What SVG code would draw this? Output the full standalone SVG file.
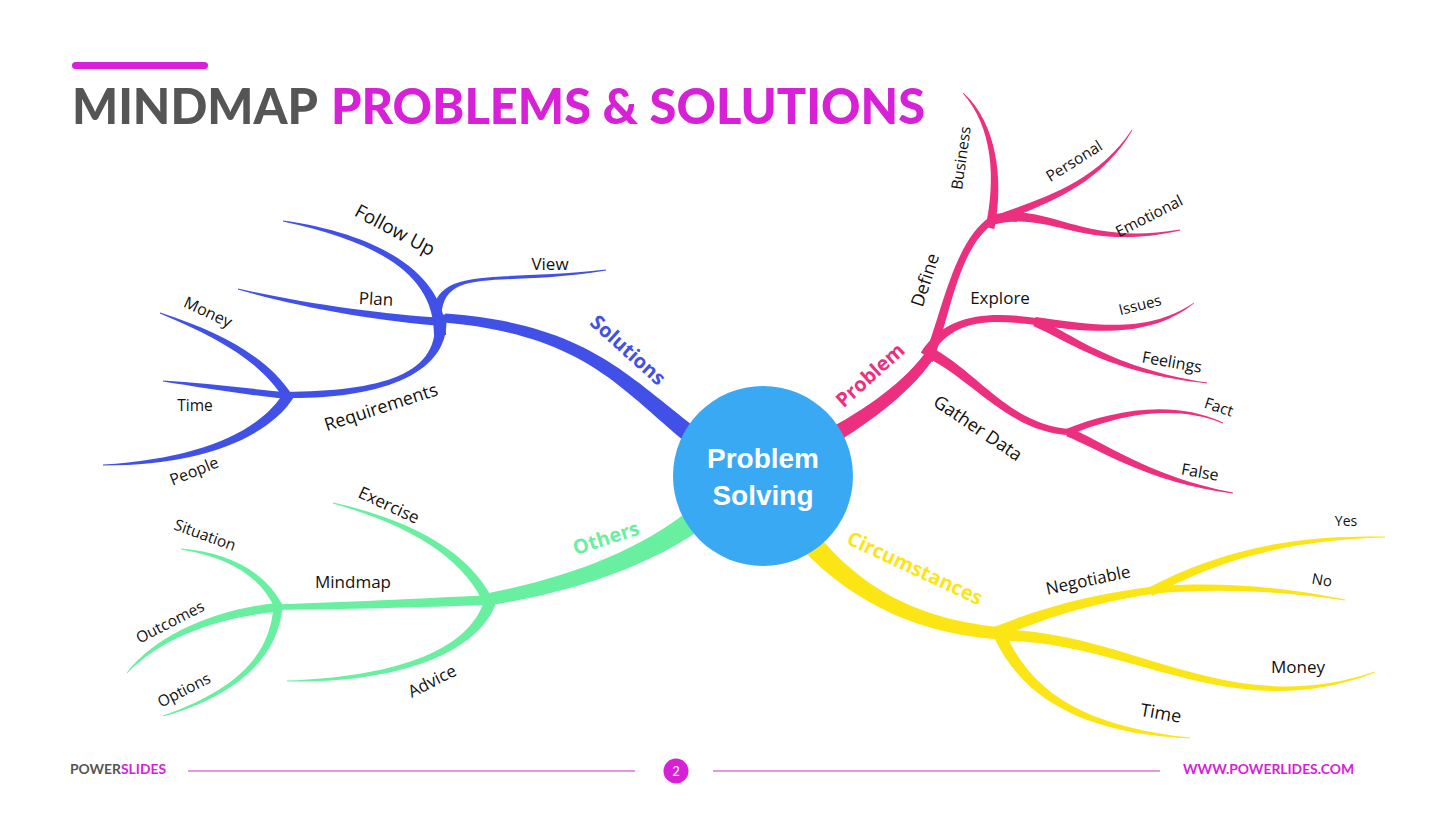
<svg xmlns="http://www.w3.org/2000/svg" width="1452" height="815" viewBox="0 0 1452 815">
<style>
.lbl{font-family:"Open Sans","Liberation Sans",sans-serif;fill:#111;text-anchor:middle}
.hd{font-family:"Open Sans","Liberation Sans",sans-serif;font-weight:700;text-anchor:middle}
.blue{fill:#4150E6}.pink{fill:#EC2F7E}.green{fill:#68F0A0}.yellow{fill:#FCE514}
</style>
<rect width="1452" height="815" fill="#ffffff"/>
<g id="title">
<rect x="72" y="62" width="136" height="7" rx="3.5" fill="#D820D8"/>
<text x="72" y="124" font-family="Lato,'Liberation Sans',sans-serif" font-weight="900" font-size="50" fill="#555555" textLength="246" lengthAdjust="spacingAndGlyphs">MINDMAP</text>
<text x="331" y="124" font-family="Lato,'Liberation Sans',sans-serif" font-weight="900" font-size="50" fill="#D820D8" textLength="594" lengthAdjust="spacingAndGlyphs">PROBLEMS &amp; SOLUTIONS</text>
</g>
<g id="connectors">
<g class="blue">
<path d="M705.4,434.8 C629.5,379 590.5,324 445.4,313.5 L444.6,322.5 C589.5,336 620.5,391 694.6,449.2 Z"/>
<path d="M446,335 C445.7,280 390.7,235.9 283.1,220.6 L282.9,221.4 C389.3,244.1 434.3,280 434,335 Z"/>
<path d="M441.5,315.3 C444.3,265.3 500.4,288 606.1,270.4 L605.9,269.6 C499.6,282 435.7,264.7 432.5,314.7 Z"/>
<path d="M445.2,318 C380.2,314.4 300.6,302.7 238.1,288.6 L237.9,289.4 C299.4,307.3 379.8,321.6 444.8,326 Z"/>
<path d="M434,315.8 C443,375.7 380,391 285,392 L285,398 C380,399 453,374.3 446,314.2 Z"/>
<path d="M291.8,394.6 C268.6,357.8 221,332.2 160.1,312.6 L159.9,313.4 C219,337.8 261.4,362.2 284.2,399.4 Z"/>
<path d="M290.4,392.5 C250.3,388.8 200.2,382.8 163,380.6 L163,381.4 C199.8,387.2 249.7,395.2 289.7,399.5 Z"/>
<path d="M285.3,390.2 C260.5,432.3 199.9,458.4 103,464.6 L103,465.4 C200.1,465.6 269.5,437.7 294.7,395.8 Z"/>
</g>
<g class="pink">
<path d="M828.9,447 C873.4,421.1 915,388.3 936.2,354.8 L927.8,349.2 C905,381.7 866.6,408.9 821.1,433 Z"/>
<path d="M932.6,362 C949.1,321.8 957.2,248.3 994,222.9 L990,217.1 C952.8,241.7 940.9,318.2 923.4,358 Z"/>
<path d="M994.4,228.9 C1004.1,180.9 997.1,122.9 963.3,92.7 L962.7,93.3 C992.9,127.1 995.9,179.1 985.6,227.1 Z"/>
<path d="M991.6,225.7 C1031.5,208.4 1097.2,191.4 1132.3,130.2 L1131.7,129.8 C1092.8,188.6 1028.6,201.6 988.4,218.3 Z"/>
<path d="M993.3,224.8 C1051.2,209.6 1080.6,253.1 1180.1,230.4 L1179.9,229.6 C1079.4,246.9 1048.8,200.5 990.8,215.2 Z"/>
<path d="M929.2,357.7 C953.8,317.4 989.4,319 1039.5,325.5 L1040.5,318.5 C990.6,311 946.2,312.6 920.8,352.4 Z"/>
<path d="M1034.5,325 C1099.5,333.7 1151.5,337.1 1194.2,303.3 L1193.8,302.7 C1148.5,332.9 1100.5,326.3 1035.6,317 Z"/>
<path d="M1033.2,326.1 C1073.3,343.8 1109.6,373 1207,383.4 L1207.1,382.6 C1110.4,367 1076.7,336.2 1036.9,317.9 Z"/>
<path d="M925.6,356.9 C973,379.2 1009.9,433.8 1071.9,435 L1072.1,429 C1010.1,426.2 977.1,370.8 930.4,347.1 Z"/>
<path d="M1069.3,435.2 C1111.2,418 1169.1,402 1222.8,423.4 L1223.2,422.6 C1170.9,398 1108.8,412 1066.7,428.8 Z"/>
<path d="M1066.3,436.2 C1098.4,448.9 1149.5,483 1232.9,493.4 L1233.1,492.6 C1150.5,477 1101.6,441.1 1069.7,427.8 Z"/>
</g>
<g class="green">
<path d="M688.5,511.1 C634.5,552.5 568.7,577.5 484,594.1 L486,605.9 C571.3,592.6 645.5,567.6 701.5,528.9 Z"/>
<path d="M494.6,603 C474.3,558.1 420.8,521.8 333.1,502.6 L332.9,503.4 C419.2,528.2 465.7,561.9 485.4,607 Z"/>
<path d="M486.1,593.7 C474.5,648.8 400,676.2 287,680.6 L287,681.4 C400,683.8 485.5,651.2 497.9,596.3 Z"/>
<path d="M489.8,595 C419.8,598.7 340,602.3 276,604.3 L276,609.7 C340,609.7 420.2,607.3 490.2,605 Z"/>
<path d="M283.7,608.4 C268.4,573.5 230.4,552.4 181.1,548.6 L180.9,549.4 C229.6,557.6 261.6,576.5 276.3,611.6 Z"/>
<path d="M281.6,602.5 C219.7,607.8 157.7,633 126.7,672.7 L127.3,673.3 C162.3,637 220.3,616.2 282.4,611.5 Z"/>
<path d="M273.5,604.8 C270.8,659.8 229.1,692.1 162.9,715.6 L163.1,716.4 C230.9,697.9 279.2,660.2 282.5,605.2 Z"/>
</g>
<g class="yellow">
<path d="M791.4,536.9 C832.7,585.8 899.4,632.7 997.5,639 L998.5,627 C900.6,617.4 847.3,574.2 808.6,523.1 Z"/>
<path d="M997.3,638.5 C1052,614.8 1100.6,601.3 1162.5,592.5 L1161.6,585.5 C1099.5,592.7 1048,605.2 992.7,627.5 Z"/>
<path d="M1152.1,596 C1212,563.7 1280,540 1385,537.4 L1385,536.6 C1280,534 1208,556.3 1147.9,588 Z"/>
<path d="M1155.3,593.5 C1220.3,587.2 1289.6,592.2 1344.9,600.4 L1345.1,599.6 C1290.4,587.8 1219.7,580.8 1154.7,586.5 Z"/>
<path d="M997,640.5 C1130,640.2 1231.2,728.4 1375.1,672.4 L1374.9,671.6 C1228.8,721.6 1130,629.8 997,629.5 Z"/>
<path d="M994.6,638.5 C1024.9,702.4 1089.7,733.8 1190,738.4 L1190,737.6 C1090.3,726.2 1035.1,697.6 1005.4,633.5 Z"/>
</g>
</g>
<g id="center">
<circle cx="763" cy="476" r="90" fill="#3AA9F4"/>
<text x="763" y="468" font-family="'Liberation Sans',Arial,sans-serif" font-weight="700" font-size="28" fill="#ffffff" text-anchor="middle">Problem</text>
<text x="763" y="505" font-family="'Liberation Sans',Arial,sans-serif" font-weight="700" font-size="28" fill="#ffffff" text-anchor="middle">Solving</text>
</g>
<g id="n-solutions"><text class="hd blue" font-size="20" dy=".35em" transform="translate(628,350) rotate(42)">Solutions</text></g>
<g id="n-followup"><text class="lbl" font-size="19" dy=".35em" transform="translate(395,230) rotate(28)">Follow Up</text></g>
<g id="n-view"><text class="lbl" font-size="17" dy=".35em" transform="translate(550,264)">View</text></g>
<g id="n-plan"><text class="lbl" font-size="17" dy=".35em" transform="translate(376,299) rotate(3)">Plan</text></g>
<g id="n-money1"><text class="lbl" font-size="16" dy=".35em" transform="translate(208,312) rotate(25)">Money</text></g>
<g id="n-time1"><text class="lbl" font-size="15.5" dy=".35em" transform="translate(195,406)">Time</text></g>
<g id="n-people"><text class="lbl" font-size="16" dy=".35em" transform="translate(194,471) rotate(-22)">People</text></g>
<g id="n-requirements"><text class="lbl" font-size="18" dy=".35em" transform="translate(381,407) rotate(-18)">Requirements</text></g>
<g id="n-problem"><text class="hd pink" font-size="20" dy=".35em" transform="translate(870,375) rotate(-42)">Problem</text></g>
<g id="n-define"><text class="lbl" font-size="18" dy=".35em" transform="translate(925,280) rotate(-72)">Define</text></g>
<g id="n-business"><text class="lbl" font-size="15.5" dy=".35em" transform="translate(961,158) rotate(-82)">Business</text></g>
<g id="n-personal"><text class="lbl" font-size="15.5" dy=".35em" transform="translate(1074,161) rotate(-32)">Personal</text></g>
<g id="n-emotional"><text class="lbl" font-size="15.5" dy=".35em" transform="translate(1149,216) rotate(-27)">Emotional</text></g>
<g id="n-explore"><text class="lbl" font-size="17" dy=".35em" transform="translate(1000,298)">Explore</text></g>
<g id="n-issues"><text class="lbl" font-size="15" dy=".35em" transform="translate(1140,305) rotate(-14)">Issues</text></g>
<g id="n-feelings"><text class="lbl" font-size="16" dy=".35em" transform="translate(1172,362) rotate(10)">Feelings</text></g>
<g id="n-fact"><text class="lbl" font-size="15.5" dy=".35em" transform="translate(1219,407) rotate(18)">Fact</text></g>
<g id="n-false"><text class="lbl" font-size="16" dy=".35em" transform="translate(1200,472) rotate(10)">False</text></g>
<g id="n-gatherdata"><text class="lbl" font-size="18" dy=".35em" transform="translate(978,428) rotate(34)">Gather Data</text></g>
<g id="n-others"><text class="hd green" font-size="20" dy=".35em" transform="translate(606,538) rotate(-18)">Others</text></g>
<g id="n-exercise"><text class="lbl" font-size="17" dy=".35em" transform="translate(389,505) rotate(25)">Exercise</text></g>
<g id="n-mindmap"><text class="lbl" font-size="17" dy=".35em" transform="translate(353,582)">Mindmap</text></g>
<g id="n-advice"><text class="lbl" font-size="17" dy=".35em" transform="translate(432,681) rotate(-27)">Advice</text></g>
<g id="n-situation"><text class="lbl" font-size="15.5" dy=".35em" transform="translate(205,535) rotate(20)">Situation</text></g>
<g id="n-outcomes"><text class="lbl" font-size="15.5" dy=".35em" transform="translate(170,622) rotate(-27)">Outcomes</text></g>
<g id="n-options"><text class="lbl" font-size="15.5" dy=".35em" transform="translate(184,690) rotate(-27)">Options</text></g>
<g id="n-circumstances"><text class="hd yellow" font-size="20" dy=".35em" transform="translate(915,568) rotate(25)">Circumstances</text></g>
<g id="n-negotiable"><text class="lbl" font-size="17" dy=".35em" transform="translate(1088,580) rotate(-12)">Negotiable</text></g>
<g id="n-yes"><text class="lbl" font-size="14" dy=".35em" transform="translate(1346,521)">Yes</text></g>
<g id="n-no"><text class="lbl" font-size="15" dy=".35em" transform="translate(1322,580) rotate(10)">No</text></g>
<g id="n-money2"><text class="lbl" font-size="17" dy=".35em" transform="translate(1298,667)">Money</text></g>
<g id="n-time2"><text class="lbl" font-size="18" dy=".35em" transform="translate(1161,713) rotate(10)">Time</text></g>
<g id="footer">
<text x="70" y="774" font-family="Lato,'Liberation Sans',sans-serif" font-weight="700" font-size="13" textLength="96" lengthAdjust="spacingAndGlyphs"><tspan fill="#555555">POWER</tspan><tspan fill="#D820D8">SLIDES</tspan></text>
<line x1="188" y1="771" x2="635" y2="771" stroke="#C930C9" stroke-width="1.2"/>
<circle cx="676" cy="771" r="12.5" fill="#D820D8"/>
<text x="676" y="776" font-family="Lato,'Liberation Sans',sans-serif" font-size="13" fill="#ffffff" text-anchor="middle">2</text>
<line x1="713" y1="771" x2="1160" y2="771" stroke="#C930C9" stroke-width="1.2"/>
<text x="1183" y="774" font-family="Lato,'Liberation Sans',sans-serif" font-weight="700" font-size="13" fill="#D820D8" textLength="171" lengthAdjust="spacingAndGlyphs">WWW.POWERLIDES.COM</text>
</g>
</svg>
